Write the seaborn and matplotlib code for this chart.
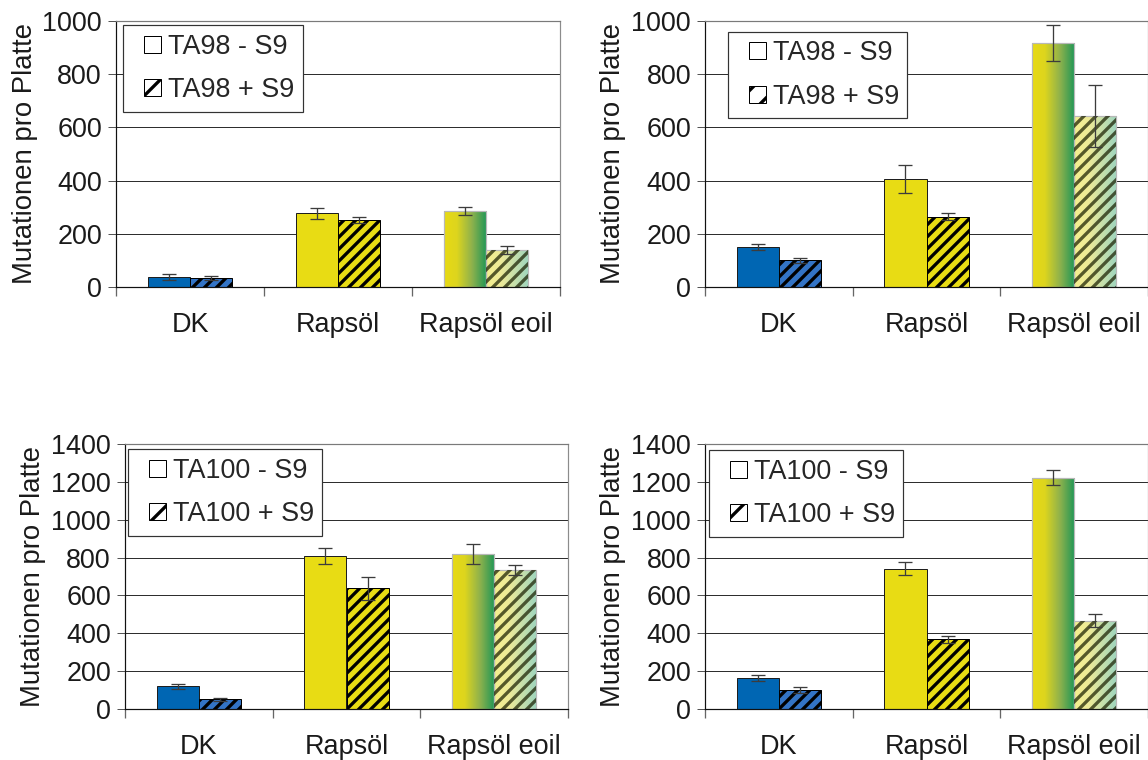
"""
Ames-Test: Mutationen pro Platte fuer DK, Rapsoel und Rapsoel eoil (TA98 / TA100, mit und ohne S9).
"""
import numpy as np
import pandas as pd
import seaborn as sns
import matplotlib.pyplot as plt
from matplotlib.patches import Patch, Rectangle
from matplotlib.legend_handler import HandlerPatch
from matplotlib.colors import LinearSegmentedColormap

proben = ['DK', 'Rapsöl', 'Rapsöl eoil']

# TA98, links
ta98_l_minus = [37, 277, 286]
ta98_l_minus_err = [10, 21, 14]
ta98_l_plus = [35, 253, 139]
ta98_l_plus_err = [8, 12, 14]

# TA98, rechts
ta98_r_minus = [149, 406, 918]
ta98_r_minus_err = [11, 54, 67]
ta98_r_plus = [100, 265, 644]
ta98_r_plus_err = [9, 13, 117]

# TA100, links
ta100_l_minus = [120, 808, 820]
ta100_l_minus_err = [14, 41, 54]
ta100_l_plus = [51, 637, 734]
ta100_l_plus_err = [9, 63, 26]

# TA100, rechts
ta100_r_minus = [166, 742, 1222]
ta100_r_minus_err = [16, 32, 39]
ta100_r_plus = [102, 369, 466]
ta100_r_plus_err = [15, 19, 34]

W, H, DPI = 1148, 760, 72
FS = 27

sns.set_style('white')
plt.rcParams['font.family'] = ['Liberation Sans', 'DejaVu Sans']
plt.rcParams['hatch.linewidth'] = 3.3

farben_minus = ['#0066B3', '#E8DC14']
farben_plus = ['#3374C6', '#E8DC14']
cmap_minus = LinearSegmentedColormap.from_list(
    'eoil', [(0, '#E8DA14'), (0.3, '#DDD51E'), (0.65, '#8FB24C'), (1, '#1E9656')])
cmap_plus = LinearSegmentedColormap.from_list(
    'eoil_hell', [(0, '#F5EF8E'), (0.35, '#EDEA98'), (1, '#9DD5BF')])


def gradient_fill(ax, bar, cmap):
    x0, y0 = bar.get_x(), bar.get_y()
    w, h = bar.get_width(), bar.get_height()
    img = ax.imshow(np.linspace(0, 1, 256).reshape(1, -1), cmap=cmap, aspect='auto',
                    extent=(x0, x0 + w, y0, y0 + h), zorder=bar.get_zorder() - 0.1)
    img.set_clip_path(bar)
    bar.set_facecolor('none')
    bar.set_edgecolor('#b8b8b8')
    bar.set_linewidth(1.2)


def square_handle(legend, orig_handle, xdescent, ydescent, width, height, fontsize):
    # kleines Quadrat rechtsbuendig in der Handle-Box
    s = 17
    return Rectangle((width - s - xdescent, (height - s) / 2 - ydescent), s, s)


def panel(rect, stamm, minus, minus_err, plus, plus_err, ymax, leg_xy, lab_x):
    fig = plt.gcf()
    ax = fig.add_axes([rect[0] / W, 1 - rect[3] / H, (rect[2] - rect[0]) / W, (rect[3] - rect[1]) / H])
    df = pd.DataFrame({'Probe': proben * 2,
                       'Wert': minus + plus,
                       'S9': [f'{stamm} - S9'] * 3 + [f'{stamm} + S9'] * 3})
    sns.barplot(data=df, x='Probe', y='Wert', hue='S9', width=0.57, errorbar=None,
                palette=['white', 'white'], saturation=1, legend=False, ax=ax)

    minus_bars, plus_bars = ax.containers[0], ax.containers[1]
    for i, bar in enumerate(minus_bars):
        if i < 2:
            bar.set_facecolor(farben_minus[i])
            bar.set_edgecolor('#1e1e1e')
            bar.set_linewidth(1)
        else:
            gradient_fill(ax, bar, cmap_minus)
    for i, bar in enumerate(plus_bars):
        if i < 2:
            bar.set_facecolor(farben_plus[i])
            bar.set_edgecolor('black')
            bar.set_hatch('//')
            bar.set_linewidth(1)
        else:
            gradient_fill(ax, bar, cmap_plus)
            ax.add_patch(Rectangle((bar.get_x(), bar.get_y()), bar.get_width(), bar.get_height(),
                                   facecolor='none', edgecolor=(0.1, 0.12, 0.0, 0.72),
                                   hatch='//', lw=0, zorder=bar.get_zorder() + 0.1))

    for bars, errs in ((minus_bars, minus_err), (plus_bars, plus_err)):
        xs = [b.get_x() + b.get_width() / 2 for b in bars]
        ys = [b.get_height() for b in bars]
        ax.errorbar(xs, ys, yerr=errs, fmt='none', ecolor='#3c3c3c', elinewidth=1.3,
                    capsize=7, capthick=1.3, zorder=4)

    ax.set_xlim(-0.5, 2.5)
    ax.set_ylim(0, ymax)
    ax.set_yticks(np.arange(0, ymax + 1, 200))
    ax.grid(axis='y', color='#2e2e2e', lw=1)
    ax.set_axisbelow(True)
    ax.spines['left'].set_color('#111111')
    ax.spines['bottom'].set_color('#111111')
    ax.spines['right'].set_color('#8c8c8c')
    ax.spines['top'].set_color('#7a7a7a')
    for s in ax.spines.values():
        s.set_linewidth(1.2)
    ax.tick_params(axis='y', length=8, width=1, color='#555555', pad=6, labelsize=FS,
                   labelcolor='#1a1a1a', left=True)
    ax.set_xticks([0, 1, 2])
    ax.set_xticklabels(proben)
    ax.tick_params(axis='x', which='major', length=0, pad=25, labelsize=FS, labelcolor='#1a1a1a')
    ax.set_xticks([-0.5, 0.5, 1.5, 2.5], minor=True)
    ax.tick_params(axis='x', which='minor', length=9, width=1.3, color='#666666', bottom=True)
    ax.set_xlabel('')
    ax.set_ylabel('Mutationen pro Platte', fontsize=FS + 0.5, color='#1a1a1a')
    ax.yaxis.set_label_coords(-(rect[0] - lab_x) / (rect[2] - rect[0]), 0.5)

    handles = [Patch(facecolor='white', edgecolor='black', lw=1),
               Patch(facecolor='white', edgecolor='black', lw=1, hatch='/')]
    leg = ax.legend(handles, [f'{stamm} - S9', f'{stamm} + S9'], loc='upper left',
                    bbox_to_anchor=leg_xy, fontsize=FS, frameon=True, fancybox=False,
                    framealpha=1, edgecolor='#333333', borderpad=0.32, labelspacing=0.64,
                    handlelength=1.07, handleheight=0.62, handletextpad=0.26, borderaxespad=0,
                    handler_map={Patch: HandlerPatch(patch_func=square_handle)})
    leg.get_frame().set_linewidth(1.2)
    return ax


fig = plt.figure(figsize=(W / DPI, H / DPI), dpi=DPI)

panel((116, 21, 560, 287), 'TA98', ta98_l_minus, ta98_l_minus_err, ta98_l_plus, ta98_l_plus_err,
      1000, (0.016, 0.985), 38)
panel((705, 21, 1148, 287), 'TA98', ta98_r_minus, ta98_r_minus_err, ta98_r_plus, ta98_r_plus_err,
      1000, (0.052, 0.96), 626)
panel((125, 444, 568, 709), 'TA100', ta100_l_minus, ta100_l_minus_err, ta100_l_plus, ta100_l_plus_err,
      1400, (0.007, 0.98), 46)
panel((705, 444, 1148, 709), 'TA100', ta100_r_minus, ta100_r_minus_err, ta100_r_plus, ta100_r_plus_err,
      1400, (0.009, 0.977), 626)

fig.savefig('out.png', dpi=DPI)
